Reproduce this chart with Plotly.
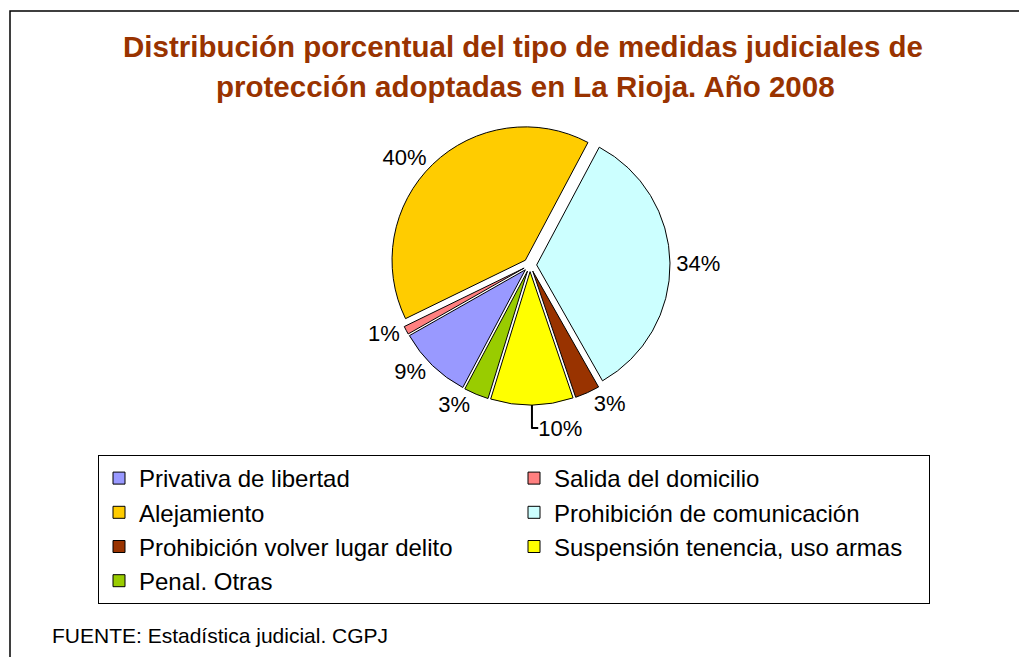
import plotly.graph_objects as go

categories = ["Privativa de libertad", "Salida del domicilio", "Alejamiento",
              "Prohibición de comunicación", "Prohibición volver lugar delito",
              "Suspensión tenencia, uso armas", "Penal. Otras"]
values = [9, 1, 40, 34, 3, 10, 3]
colors = ["#9999FF", "#FF8080", "#FFCC00", "#CCFFFF", "#993300", "#FFFF00", "#99CC00"]

W, H = 1027, 657
OFF = 8  # page body margin
FONT = "Liberation Sans, Arial, sans-serif"


def px(x):
    return (x - OFF) / W


def py(y):
    return 1 - (y - OFF) / H


fig = go.Figure()
fig.add_trace(go.Pie(
    labels=categories, values=values, sort=False, direction="clockwise",
    rotation=-152,
    marker=dict(colors=colors, line=dict(color="black", width=1)),
    pull=[0.05] * len(values),
    textinfo="percent", texttemplate="%{percent:.0%}",
    textposition="outside",
    textfont=dict(family=FONT, size=22, color="black"),
    domain=dict(x=[px(210), px(850)], y=[py(405), py(125)]),
))

fig.update_layout(
    width=W, height=H,
    margin=dict(l=0, r=0, t=0, b=0, autoexpand=False),
    paper_bgcolor="white", plot_bgcolor="white",
    font=dict(family=FONT, color="black"),
    showlegend=True,
    legend=dict(
        orientation="h", x=px(98), y=py(455), xanchor="left", yanchor="top",
        entrywidth=370, entrywidthmode="pixels",
        bordercolor="black", borderwidth=1, bgcolor="white",
        font=dict(family=FONT, size=24, color="black"),
        traceorder="normal",
    ),
    annotations=[
        dict(text="<b>Distribución porcentual del tipo de medidas judiciales de</b>",
             x=px(523), y=py(47), xref="paper", yref="paper", showarrow=False,
             xanchor="center", yanchor="middle",
             font=dict(family=FONT, size=29.5, color="#993300")),
        dict(text="<b>protección adoptadas en La Rioja. Año 2008</b>",
             x=px(525), y=py(86), xref="paper", yref="paper", showarrow=False,
             xanchor="center", yanchor="middle",
             font=dict(family=FONT, size=29.5, color="#993300")),
        dict(text="FUENTE: Estadística judicial. CGPJ",
             x=px(50), y=py(635), xref="paper", yref="paper", showarrow=False,
             xanchor="left", yanchor="middle",
             font=dict(family=FONT, size=21, color="black")),
    ],
    shapes=[
        dict(type="rect", xref="paper", yref="paper",
             x0=px(10), y0=-0.05, x1=1.05, y1=py(11),
             line=dict(color="black", width=1.5), fillcolor="rgba(0,0,0,0)", layer="below"),
    ],
)

fig.write_html("out.html")
